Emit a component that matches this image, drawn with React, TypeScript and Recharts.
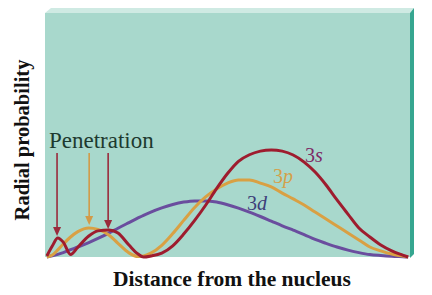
import { LineChart, Line, XAxis, YAxis, CartesianGrid, ReferenceLine } from 'recharts';

// distance from nucleus (arbitrary units, 0..100 across the panel)
const distance = [
  0.5, 2, 3.5, 5, 7, 9, 12, 14.5, 17.5, 20, 23, 25.5, 27, 29, 32, 35, 38, 41, 44, 47, 50,
  53, 56, 59, 62, 65, 68, 71, 74, 77, 80, 83, 86, 89, 92, 95, 98, 99.5,
];

const prob3s = [
  0.4, 4.5, 7.8, 6.1, 1.0, 4.0, 8.6, 10.7, 11.1, 9.8, 4.9, 1.2, 0, 0.4, 1.6, 4.6, 9.4, 15.0, 21.2, 28.0, 34.2,
  39.2, 41.9, 43.4, 43.9, 43.4, 41.8, 38.9, 34.8, 29.5, 23.4, 17.6, 11.9, 8.2, 4.9, 2.5, 0.8, 0,
];

const prob3p = [
  0, 0.8, 2.9, 5.3, 8.2, 10.4, 11.9, 11.3, 9.0, 5.6, 1.7, 0.2, 0.4, 1.6, 4.8, 9.6, 15.0, 20.3, 24.6, 27.9, 30.3,
  31.6, 31.6, 30.3, 28.7, 26.2, 23.8, 21.3, 18.4, 15.6, 12.7, 9.8, 7.0, 4.1, 2.5, 1.2, 0.4, 0,
];

const prob3d = [
  0, 0.5, 1.1, 1.8, 3.0, 4.1, 5.9, 7.6, 9.8, 11.8, 14.1, 16.0, 17.1, 18.4, 20.1, 21.5, 22.5, 23.0, 23.0, 22.5, 21.4,
  20.0, 18.4, 16.6, 14.7, 12.8, 11.0, 9.2, 7.2, 5.6, 4.1, 2.8, 1.8, 1.0, 0.6, 0.3, 0.1, 0,
];

// penetration arrows: [distance, top, tip]
const arrows3s = [
  [3.3, 42.6, 8.6],
  [17.3, 42.6, 11.5],
];
const arrows3p = [[12.1, 42.6, 13.1]];

const data = distance.map((d, i) => ({ d, s: prob3s[i], p: prob3p[i], dd: prob3d[i] }));

const RED = '#9e1c2e';
const ORANGE = '#d9a043';
const PURPLE = '#6a4d9e';

const arrowShape = (color: string) => (props: any) => {
  const { x1, y1, x2, y2 } = props;
  if (x1 == null) return null;
  return (
    <g>
      <line x1={x1} y1={y1} x2={x2} y2={y2 - 6} stroke={color} strokeWidth={1.6} />
      <polygon points={`${x2 - 4},${y2 - 9} ${x2 + 4},${y2 - 9} ${x2},${y2}`} fill={color} />
    </g>
  );
};

const serif = { fontFamily: "'Liberation Serif', 'DejaVu Serif', serif" };

export default function App() {
  return (
    <div style={{ position: 'absolute', left: 0, top: 0, width: 432, height: 295, background: '#fff' }}>
      <LineChart width={432} height={295} data={data} margin={{ top: 13, right: 22, bottom: 38, left: 45 }}>
        {/* box bevel */}
        <polygon points="45,13 51,8 414,8 410,13" fill="#cfeae3" />
        <polygon points="410,13 414,8 414,254 410,258" fill="#36a690" />
        <CartesianGrid fill="#a8d8cc" horizontal={false} vertical={false} stroke="none" />
        <XAxis type="number" dataKey="d" domain={[0, 100]} hide />
        <YAxis type="number" domain={[0, 100]} hide />
        <Line type="monotone" dataKey="dd" stroke={PURPLE} strokeWidth={3} dot={false} isAnimationActive={false} />
        <Line type="monotone" dataKey="p" stroke={ORANGE} strokeWidth={3} dot={false} isAnimationActive={false} />
        <Line type="monotone" dataKey="s" stroke={RED} strokeWidth={3} dot={false} isAnimationActive={false} />
        {arrows3s.map(([x, top, tip], i) => (
          <ReferenceLine key={'s' + i} segment={[{ x, y: top }, { x, y: tip }]} shape={arrowShape('#9a2a3c')} />
        ))}
        {arrows3p.map(([x, top, tip], i) => (
          <ReferenceLine key={'p' + i} segment={[{ x, y: top }, { x, y: tip }]} shape={arrowShape('#d29a48')} />
        ))}
        <text x={49} y={148} style={serif} fontSize={23} fill="#1d3a2f">Penetration</text>
        <text x={305} y={162} style={serif} fontSize={20} fill="#7e2a66">
          3<tspan fontStyle="italic">s</tspan>
        </text>
        <text x={273} y={183} style={serif} fontSize={20} fill="#d4a04a">
          3<tspan fontStyle="italic">p</tspan>
        </text>
        <text x={247} y={210} style={serif} fontSize={20} fill="#3d3f7a">
          3<tspan fontStyle="italic">d</tspan>
        </text>
        <text x={232} y={286} textAnchor="middle" style={serif} fontSize={21.5} fontWeight="bold" fill="#111">
          Distance from the nucleus
        </text>
        <text
          x={29}
          y={140}
          transform="rotate(-90 29 140)"
          textAnchor="middle"
          style={serif}
          fontSize={20.5}
          fontWeight="bold"
          fill="#111"
        >
          Radial probability
        </text>
      </LineChart>
    </div>
  );
}
